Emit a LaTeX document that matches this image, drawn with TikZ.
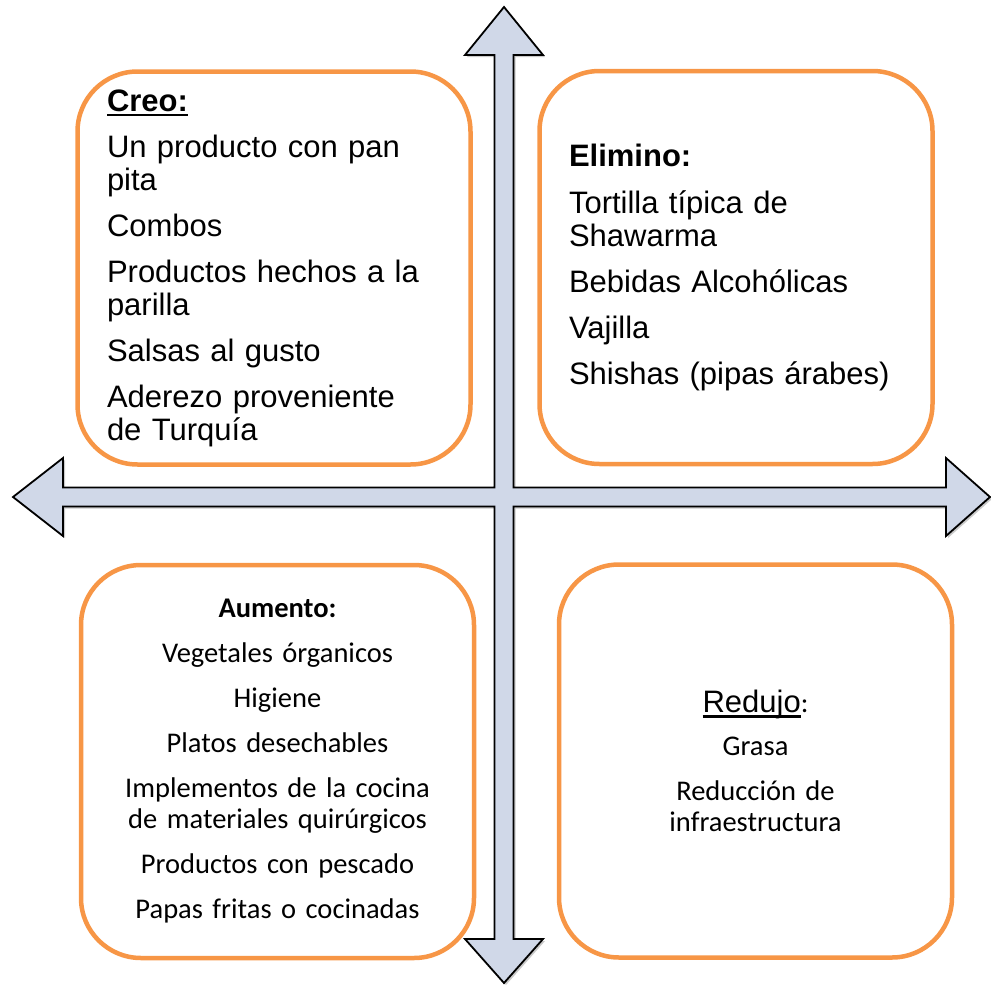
\documentclass[tikz,border=0pt]{standalone}
\usepackage{fontspec}
\setmainfont{Liberation Sans}
\newfontfamily\calibri{Carlito}
\usetikzlibrary{positioning,shadows}
\definecolor{boxorange}{HTML}{F79646}
\definecolor{arrowfill}{HTML}{D0D8E8}

\begin{document}
\begin{tikzpicture}[x=1pt,y=-1pt]
		\tikzset{quadbox/.style={draw=boxorange, line width=4.5pt, rounded corners=60pt, fill=white, minimum width=393pt, minimum height=393pt, text width=334pt}}
		\tikzset{crossarrow/.style={draw=black, line width=1.8pt, fill=arrowfill, line join=miter, drop shadow={shadow xshift=2pt, shadow yshift=-2pt, fill=black!35, opacity=0.6}}}
		\tikzset{arialtext/.style={font=\fontsize{31}{33}\selectfont, align=left}}
		\tikzset{calibritext/.style={font=\calibri\fontsize{28.5}{31}\selectfont, align=center}}
		
		%\draw[help lines, blue] (0,0) grid[step=50] (991,985);
		
		\newcommand\ulword[1] % {text}
		{\setbox0=\hbox{#1}\rlap{\rule[-5pt]{\wd0}{2.2pt}}\box0}
		
		\useasboundingbox (0,0) rectangle (991,985);
		
		% the cross with four heads
		\draw[crossarrow]
		(504,7) -- (543,55) -- (513.5,55) -- (513.5,487.5) -- (946,487.5) -- (946,458)
		-- (990,497) -- (946,536) -- (946,506.5) -- (513.5,506.5) -- (513.5,939)
		-- (543,939) -- (504,983) -- (465,939) -- (494.5,939) -- (494.5,506.5)
		-- (63,506.5) -- (63,536) -- (13,497) -- (63,458) -- (63,487.5)
		-- (494.5,487.5) -- (494.5,55) -- (465,55) -- cycle;
		
		\node[quadbox, arialtext] (creo) at (274,268) {%
			\textbf{\ulword{Creo:}}\\[13pt]
			Un producto con pan\\
			pita\\[13pt]
			Combos\\[13pt]
			Productos hechos a la\\
			parilla\\[13pt]
			Salsas al gusto\\[13pt]
			Aderezo proveniente\\
			de Turquía};
		
		\node[quadbox, arialtext] (elimino) at (736,267.5) {%
			\textbf{Elimino:}\\[14pt]
			Tortilla típica de\\
			Shawarma\\[13pt]
			Bebidas Alcohólicas\\[13pt]
			Vajilla\\[13pt]
			Shishas (pipas árabes)};
		
		\node[quadbox, calibritext] (aumento) at (277.5,761.5) {%
			\textbf{Aumento:}\\[14pt]
			Vegetales órganicos\\[14pt]
			Higiene\\[14pt]
			Platos desechables\\[14pt]
			Implementos de la cocina\\
			de materiales quirúrgicos\\[14pt]
			Productos con pescado\\[14pt]
			Papas fritas o cocinadas};
		
		\node[quadbox, calibritext] (redujo) at (755.5,761) {%
			{\fontspec{Liberation Sans}\fontsize{31}{33}\selectfont\ulword{Redujo}}:\\[12pt]
			Grasa\\[14pt]
			Reducción de\\
			infraestructura};
		
\end{tikzpicture}
\end{document}
